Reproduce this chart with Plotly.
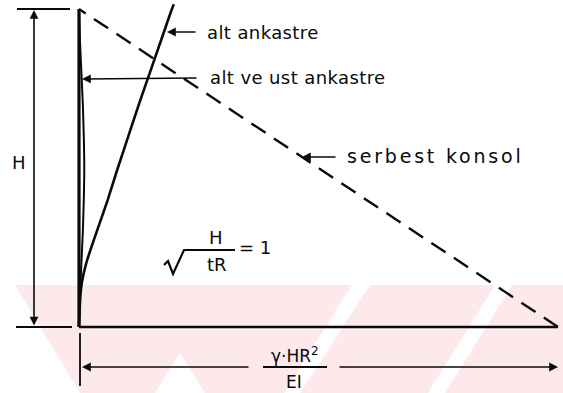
import plotly.graph_objects as go

# Deflection shapes of a cylindrical wall, H / sqrt(tR) = 1.
# Height is a fraction of H (0 = base, 1 = top); deflection is a
# fraction of the free-cantilever top deflection gamma*H*R^2/(E*I).
height_frac = [0.0, 0.1, 0.2, 0.3, 0.4, 0.5, 0.6, 0.7, 0.8, 0.9, 1.0]

# fixed base, free top ("alt ankastre") -- the line runs a little past the top
alt_height = [0.0, 0.1, 0.14, 0.2, 0.3, 0.4, 0.5, 0.6, 0.7, 0.8, 0.9, 1.0, 1.015]
alt_defl = [0.0, 0.003, 0.006, 0.015, 0.037, 0.060, 0.081, 0.103, 0.125, 0.148, 0.171, 0.194, 0.198]

# fixed base and fixed top ("alt ve ust ankastre")
alt_ust_defl = [0.0, 0.002, 0.005, 0.008, 0.010, 0.011, 0.010, 0.008, 0.005, 0.002, 0.0]

# free cantilever ("serbest konsol")
konsol_height = [0.0, 1.0]
konsol_defl = [1.0, 0.0]

# wall axis and deflection scale
wall_height = [0.0, 1.0]
wall_defl = [0.0, 0.0]
scale_defl = [0.0, 1.0]
scale_height = [0.0, 0.0]

W, Hpx = 563, 393
X0, Y0 = 79.0, 327.0      # base of the wall on the page
SX, SY = 479.0, 318.0     # page length of one unit of deflection / height


def dx(px):
    return (px - X0) / SX


def dy(py):
    return (Y0 - py) / SY


INK = "#0a0a0a"
PINK = "#fde8ec"
FONT = "DejaVu Sans"

fig = go.Figure()

fig.add_trace(go.Scatter(x=wall_defl, y=wall_height, mode="lines",
                         line=dict(color=INK, width=3.2), hoverinfo="skip"))
fig.add_trace(go.Scatter(x=scale_defl, y=scale_height, mode="lines",
                         line=dict(color=INK, width=2.4), hoverinfo="skip"))
fig.add_trace(go.Scatter(x=konsol_defl, y=konsol_height, mode="lines",
                         line=dict(color=INK, width=2.4, dash="17px,10px"),
                         hoverinfo="skip"))
fig.add_trace(go.Scatter(x=alt_defl, y=alt_height, mode="lines",
                         line=dict(color=INK, width=2.6, shape="spline"),
                         hoverinfo="skip"))
fig.add_trace(go.Scatter(x=alt_ust_defl, y=height_frac, mode="lines",
                         line=dict(color=INK, width=2.0, shape="spline"),
                         hoverinfo="skip"))

shapes = []


def seg(x1, y1, x2, y2, w=1.8):
    shapes.append(dict(type="line", xref="x", yref="y",
                       x0=dx(x1), y0=dy(y1), x1=dx(x2), y1=dy(y2),
                       line=dict(color=INK, width=w)))


def poly(pts, color):
    path = "M " + " L ".join(f"{dx(a)},{dy(b)}" for a, b in pts) + " Z"
    shapes.append(dict(type="path", xref="x", yref="y", path=path,
                       fillcolor=color, line=dict(width=0), layer="below"))


# faint background band
poly([(15, 285), (563, 285), (563, 393), (15, 393)], PINK)
poly([(0, 285), (15, 285), (80, 393), (0, 393)], "white")
poly([(180, 353), (155, 393), (205, 393)], "white")
poly([(352, 285), (370, 285), (300, 393), (284, 393)], "white")
poly([(495, 285), (512, 285), (445, 393), (428, 393)], "white")

# dimension extension lines
seg(17, 9, 70, 9, 1.8)
seg(16, 327, 72, 327, 1.8)
seg(80, 333, 80, 386, 1.8)
# radical and fraction bars
shapes.append(dict(type="path", xref="x", yref="y",
                   path="M {} {} L {} {} L {} {} L {} {} L {} {}".format(
                       dx(164), dy(265), dx(168), dy(261), dx(173), dy(274),
                       dx(184), dy(250), dx(235), dy(250)),
                   line=dict(color=INK, width=2.2)))
seg(263, 367, 327, 367, 2)

annotations = []


def arrow(hx, hy, tx, ty, both=False, w=1.6):
    annotations.append(dict(x=dx(hx), y=dy(hy), ax=dx(tx), ay=dy(ty),
                            xref="x", yref="y", axref="x", ayref="y",
                            text="", showarrow=True, arrowhead=2,
                            startarrowhead=2, arrowsize=1.1,
                            arrowside="end+start" if both else "end",
                            arrowwidth=w, arrowcolor=INK))


def label(x, y, text, size=18, anchor="center", spacing=None):
    if spacing:
        text = f'<span style="letter-spacing:{spacing}px">{text}</span>'
    annotations.append(dict(x=dx(x), y=dy(y), xref="x", yref="y", text=text,
                            showarrow=False, xanchor=anchor, yanchor="middle",
                            font=dict(family=FONT, size=size, color=INK)))


arrow(34, 10, 34, 327, both=True)
arrow(167, 32, 197, 32)
arrow(82, 79, 198, 78)
arrow(302, 157, 337, 157)
arrow(82, 367, 250, 367)
arrow(558, 367, 338, 367)

label(205, 32, "alt ankastre", anchor="left", spacing=0.4)
label(208, 77, "alt ve ust ankastre", anchor="left", spacing=0.4)
label(345, 156, "serbest konsol", size=19, anchor="left", spacing=2.8)
label(19, 162, "H")
label(216, 237, "H")
label(217, 264, "tR")
label(255, 247, "= 1")
label(295, 355, "γ·HR<sup>2</sup>", size=17)
label(294, 382, "EI", size=17)

fig.update_layout(
    width=W, height=Hpx, margin=dict(l=0, r=0, t=0, b=0),
    paper_bgcolor="white", plot_bgcolor="white", showlegend=False,
    shapes=shapes, annotations=annotations,
    xaxis=dict(range=[dx(0), dx(W)], visible=False, fixedrange=True),
    yaxis=dict(range=[dy(Hpx), dy(0)], visible=False, fixedrange=True),
)

fig.write_html("out.html")
